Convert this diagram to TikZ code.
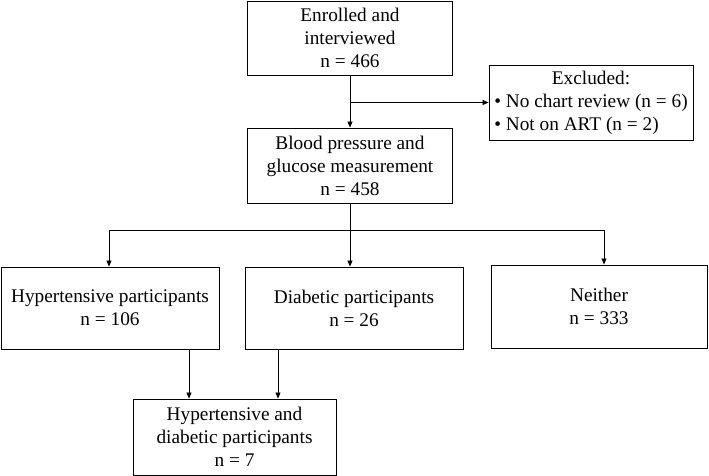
\documentclass[tikz,border=0pt]{standalone}
\usepackage{fontspec}
\setmainfont{Liberation Serif}
\usepackage{tikz}
\usetikzlibrary{positioning, arrows.meta}

\begin{document}
\begin{tikzpicture}[
            x=1pt, y=-1pt,
            box/.style = {rectangle, draw, line width=0.9pt, inner sep=0pt, align=center,
                          font=\fontsize{19.3}{23}\selectfont},
            arr/.style = {-{Triangle[length=6pt, width=5pt]}, line width=0.8pt},
        ]
            \useasboundingbox (0,0) rectangle (709,476);

            % Boxes
            \node[box, minimum width=205pt, minimum height=74pt] (enrol) at (350,38) {Enrolled and\\interviewed\\n = 466};
            \node[box, minimum width=204pt, minimum height=75pt] (excl) at (591,102.5)
                {\begin{tabular}{@{}l@{}}\multicolumn{1}{@{}c@{}}{Excluded:}\\\textbullet\ No chart review (n = 6)\\\textbullet\ Not on ART (n = 2)\end{tabular}};
            \node[box, minimum width=205pt, minimum height=75pt] (bp) at (350,165.5) {Blood pressure and\\glucose measurement\\n = 458};

            % Groups
            \node[box, minimum width=218pt, minimum height=82pt] (hyp) at (110,308) {Hypertensive participants\\n = 106};
            \node[box, minimum width=218pt, minimum height=82pt] (diab) at (354,308) {Diabetic participants\\n = 26};
            \node[box, minimum width=216pt, minimum height=83pt] (neither) at (599,306.5) {Neither\\n = 333};
            \node[box, minimum width=203pt, minimum height=76pt] (both) at (234.5,437) {Hypertensive and\\diabetic participants\\n = 7};

            % Connectors
            \coordinate (fork) at (350,230);
            \draw[arr] (enrol) -- (bp);
            \draw[arr] (enrol.south |- excl.west) -- (excl.west);
            \draw[line width=0.8pt] (bp) -- (fork);
            \draw[arr] (fork) -| ([xshift=-1pt]hyp.north);
            \draw[arr] (fork) -- (fork |- diab.north);
            \draw[arr] (fork) -| ([xshift=5pt]neither.north);
            \draw[arr] ([xshift=-45.5pt]both.north |- hyp.south) -- ([xshift=-45.5pt]both.north);
            \draw[arr] ([xshift=43.5pt]both.north |- diab.south) -- ([xshift=43.5pt]both.north);

        \end{tikzpicture}
\end{document}
